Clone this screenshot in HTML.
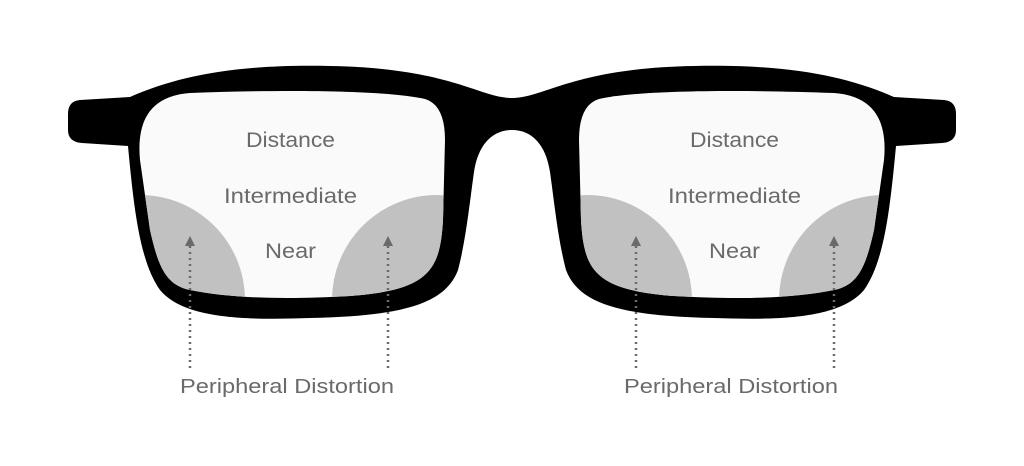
<!DOCTYPE html>
<html><head><meta charset="utf-8"><style>
html,body{margin:0;padding:0;background:#fff;}
svg{display:block;}
text{font-family:"Liberation Sans",sans-serif;fill:#6a6a6a;}
</style></head><body>
<svg width="1024" height="466" viewBox="0 0 1024 466" xmlns="http://www.w3.org/2000/svg">
<defs>
<path id="frame" d="M512 98 C480 98,450 68,330 66 C240 64,180 75,130 97 L80 100 Q68 101 68 114 L68 130 Q68 142 82 143 L128 146 C134 210,140 262,160 290 C185 320,250 320,310 318 C400 316,445 305,458 270 C466 240,470 200,474 172 C478 145,492 130,512 130 Z"/>
<path id="lens" d="M190 93 C300 89,390 91,425 99 Q445 105,445 140 L443 220 C440 270,430 290,350 296 C280 300,230 298,190 290 C165 285,158 265,150 230 L140 160 Q134 97,190 93 Z"/>
<clipPath id="lc"><use href="#lens"/></clipPath>
<g id="half">
<use href="#frame" fill="#000"/>
<use href="#lens" fill="#fafafa"/>
<g clip-path="url(#lc)" fill="#c1c1c1">
<circle cx="140" cy="300" r="105"/>
<circle cx="437" cy="300" r="105"/>
</g>
<line x1="190" y1="368" x2="190" y2="245" stroke="#6a6a6a" stroke-width="2.5" stroke-dasharray="2 4"/>
<path d="M185 246 L190 236 L195 246 Z" fill="#6a6a6a"/>
<line x1="388" y1="368" x2="388" y2="245" stroke="#6a6a6a" stroke-width="2.5" stroke-dasharray="2 4"/>
<path d="M383 246 L388 236 L393 246 Z" fill="#6a6a6a"/>
</g>
</defs>
<use href="#half"/>
<g transform="translate(1024,0) scale(-1,1)"><use href="#half"/></g>
<g font-size="21" lengthAdjust="spacingAndGlyphs">
<text x="246" y="147" textLength="89" lengthAdjust="spacingAndGlyphs">Distance</text>
<text x="224" y="203" textLength="133" lengthAdjust="spacingAndGlyphs">Intermediate</text>
<text x="265" y="258" textLength="51" lengthAdjust="spacingAndGlyphs">Near</text>
<text x="690" y="147" textLength="89" lengthAdjust="spacingAndGlyphs">Distance</text>
<text x="668" y="203" textLength="133" lengthAdjust="spacingAndGlyphs">Intermediate</text>
<text x="709" y="258" textLength="51" lengthAdjust="spacingAndGlyphs">Near</text>
<text x="180" y="393" font-size="20" textLength="214" lengthAdjust="spacingAndGlyphs">Peripheral Distortion</text>
<text x="624" y="393" font-size="20" textLength="214" lengthAdjust="spacingAndGlyphs">Peripheral Distortion</text>
</g>
</svg>
</body></html>
